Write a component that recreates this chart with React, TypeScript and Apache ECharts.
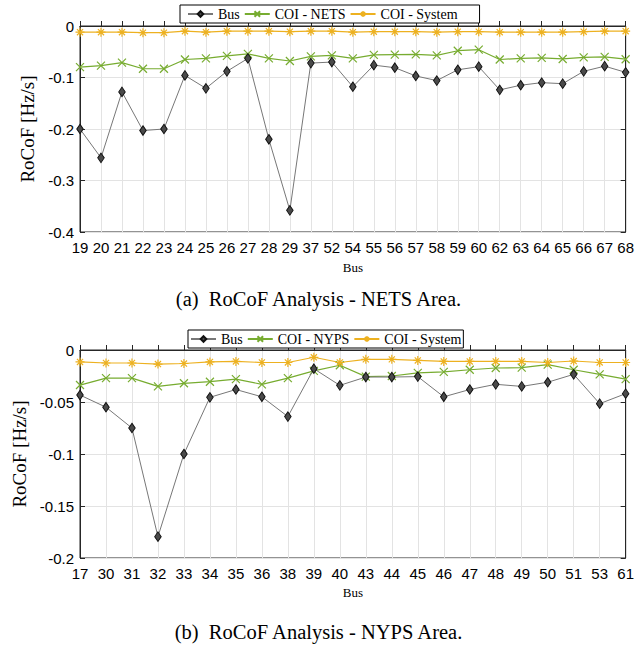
import React, { useEffect, useRef } from "react";
import * as echarts from "echarts";

// ---------- Data ----------
const netsBuses = ["19","20","21","22","23","24","25","26","27","28","29","37","52","54","55","56","57","58","59","60","62","63","64","65","66","67","68"];
const netsBus = [-0.200,-0.256,-0.128,-0.203,-0.200,-0.096,-0.121,-0.088,-0.063,-0.220,-0.358,-0.072,-0.070,-0.118,-0.076,-0.081,-0.097,-0.106,-0.085,-0.079,-0.124,-0.115,-0.110,-0.112,-0.088,-0.078,-0.090];
const netsCoi = [-0.080,-0.077,-0.071,-0.083,-0.083,-0.065,-0.063,-0.058,-0.054,-0.063,-0.068,-0.059,-0.057,-0.063,-0.056,-0.0555,-0.055,-0.057,-0.048,-0.046,-0.065,-0.063,-0.062,-0.064,-0.061,-0.060,-0.0645];
const netsSystem = [-0.012,-0.012,-0.012,-0.013,-0.013,-0.010,-0.012,-0.010,-0.010,-0.010,-0.011,-0.010,-0.010,-0.012,-0.011,-0.011,-0.011,-0.012,-0.011,-0.011,-0.012,-0.012,-0.012,-0.012,-0.011,-0.010,-0.010];

const nypsBuses = ["17","30","31","32","33","34","35","36","38","39","40","43","44","45","46","47","48","49","50","51","53","61"];
const nypsBus = [-0.0433,-0.055,-0.075,-0.1795,-0.100,-0.0455,-0.038,-0.045,-0.064,-0.018,-0.034,-0.026,-0.026,-0.0256,-0.045,-0.038,-0.033,-0.035,-0.031,-0.0234,-0.0516,-0.042];
const nypsCoi = [-0.0337,-0.027,-0.027,-0.035,-0.032,-0.0305,-0.028,-0.033,-0.027,-0.020,-0.0147,-0.0256,-0.025,-0.022,-0.021,-0.019,-0.0173,-0.017,-0.014,-0.019,-0.0234,-0.028];
const nypsSystem = [-0.0115,-0.0125,-0.0125,-0.0135,-0.013,-0.0115,-0.011,-0.012,-0.012,-0.007,-0.012,-0.009,-0.009,-0.010,-0.011,-0.011,-0.011,-0.011,-0.012,-0.0106,-0.012,-0.012];

const captionA = "(a)  RoCoF Analysis - NETS Area.";
const captionB = "(b)  RoCoF Analysis - NYPS Area.";
const yName = "RoCoF [Hz/s]";
const xName = "Bus";

// ---------- Styles ----------
const SERIF = "'Liberation Serif', 'Times New Roman', serif";
const SANS = "'Liberation Sans', Arial, Helvetica, sans-serif";
const GRAY = "#777777";
const GREEN = "#77AC30";
const ORANGE = "#EDB120";
const AXIS = "#262626";
const GRID = "#e3e3e3";
const X_SYMBOL = "path://M0 0L10 10M10 0L0 10";
const STAR_SYMBOL = "path://M5 0L5 10M0 5L10 5M1.6 1.6L8.4 8.4M8.4 1.6L1.6 8.4";

function xAxisCfg(gridIndex: number, data: string[], nameGap: number) {
  return {
    type: "category",
    gridIndex,
    data,
    boundaryGap: false,
    name: xName,
    nameLocation: "middle",
    nameGap,
    nameTextStyle: { fontFamily: SERIF, fontSize: 13, color: "#000" },
    axisLine: { show: true, lineStyle: { color: AXIS, width: 1 } },
    axisTick: { show: true, inside: true, length: 5, alignWithLabel: true, lineStyle: { color: AXIS } },
    axisLabel: { fontFamily: SANS, fontSize: 15, color: "#000", margin: 8, interval: 0 },
    splitLine: { show: true, lineStyle: { color: GRID, width: 1 } },
  };
}

function yAxisCfg(gridIndex: number, min: number, interval: number, left: boolean) {
  return {
    type: "value",
    gridIndex,
    min,
    max: 0,
    interval,
    position: left ? "left" : "right",
    name: left ? yName : "",
    nameLocation: "middle",
    nameGap: 37,
    nameRotate: 90,
    nameTextStyle: { fontFamily: SERIF, fontSize: 19, color: "#000" },
    axisLine: { show: true, lineStyle: { color: AXIS, width: 1 } },
    axisTick: { show: true, inside: true, length: 5, lineStyle: { color: AXIS } },
    axisLabel: { show: left, fontFamily: SANS, fontSize: 15, color: "#000", margin: 6 },
    splitLine: { show: left, lineStyle: { color: GRID, width: 1 } },
  };
}

function busSeries(xi: number, yi: number, data: number[]) {
  return {
    name: "Bus",
    type: "line",
    xAxisIndex: xi,
    yAxisIndex: yi,
    data,
    symbol: "diamond",
    symbolSize: [6.5, 9.5],
    lineStyle: { color: GRAY, width: 1 },
    itemStyle: { color: "#4a4a4a", borderColor: "#111", borderWidth: 1 },
    z: 4,
  };
}
function coiSeries(name: string, xi: number, yi: number, data: number[]) {
  return {
    name,
    type: "line",
    xAxisIndex: xi,
    yAxisIndex: yi,
    data,
    symbol: X_SYMBOL,
    symbolSize: 8,
    lineStyle: { color: GREEN, width: 1.2 },
    itemStyle: { color: GREEN, borderColor: GREEN, borderWidth: 1.2 },
    z: 3,
  };
}
function sysSeries(xi: number, yi: number, data: number[]) {
  return {
    name: "COI - System",
    type: "line",
    xAxisIndex: xi,
    yAxisIndex: yi,
    data,
    symbol: STAR_SYMBOL,
    symbolSize: 9,
    lineStyle: { color: ORANGE, width: 1.2 },
    itemStyle: { color: ORANGE, borderColor: ORANGE, borderWidth: 1.2 },
    z: 3,
  };
}

const legendBase = {
  orient: "horizontal",
  backgroundColor: "#fff",
  borderColor: "#000",
  borderWidth: 1,
  borderRadius: 0,
  itemGap: 4,
  itemWidth: 25,
  itemHeight: 7,
  textStyle: { fontFamily: SERIF, fontSize: 14, color: "#000" },
};

export default function App() {
  const ref = useRef<HTMLDivElement>(null);
  useEffect(() => {
    if (!ref.current) return;
    const chart = echarts.init(ref.current, undefined, { renderer: "svg" });
    const option: any = {
      animation: false,
      backgroundColor: "#fff",
      title: [
        { text: captionA, left: "center", top: 283, textStyle: { fontFamily: SERIF, fontSize: 20.5, fontWeight: "normal", color: "#000" } },
        { text: captionB, left: "center", top: 616, textStyle: { fontFamily: SERIF, fontSize: 20.5, fontWeight: "normal", color: "#000" } },
      ],
      legend: [
        { ...legendBase, left: 180, top: 5, padding: [2, 22, 2, 7], data: ["Bus", "COI - NETS", "COI - System"], z: 10 },
        { ...legendBase, left: 188, top: 330, padding: [2, 2, 2, 2], data: ["Bus", "COI - NYPS", "COI - System"], z: 10 },
      ],
      grid: [
        { left: 80, right: 7, top: 26, height: 206, show: true, borderColor: AXIS, borderWidth: 1, backgroundColor: "transparent" },
        { left: 80, right: 7, top: 350, height: 208, show: true, borderColor: AXIS, borderWidth: 1, backgroundColor: "transparent" },
      ],
      xAxis: [xAxisCfg(0, netsBuses, 29), xAxisCfg(1, nypsBuses, 28)],
      yAxis: [
        yAxisCfg(0, -0.4, 0.1, true),
        yAxisCfg(0, -0.4, 0.1, false),
        yAxisCfg(1, -0.2, 0.05, true),
        yAxisCfg(1, -0.2, 0.05, false),
      ],
      series: [
        busSeries(0, 0, netsBus),
        coiSeries("COI - NETS", 0, 0, netsCoi),
        sysSeries(0, 0, netsSystem),
        busSeries(1, 2, nypsBus),
        coiSeries("COI - NYPS", 1, 2, nypsCoi),
        sysSeries(1, 2, nypsSystem),
      ],
    };
    chart.setOption(option);
    return () => chart.dispose();
  }, []);
  return (
    <div
      ref={ref}
      style={{ position: "absolute", left: 0, top: 0, width: 637, height: 646, background: "#fff" }}
    />
  );
}
